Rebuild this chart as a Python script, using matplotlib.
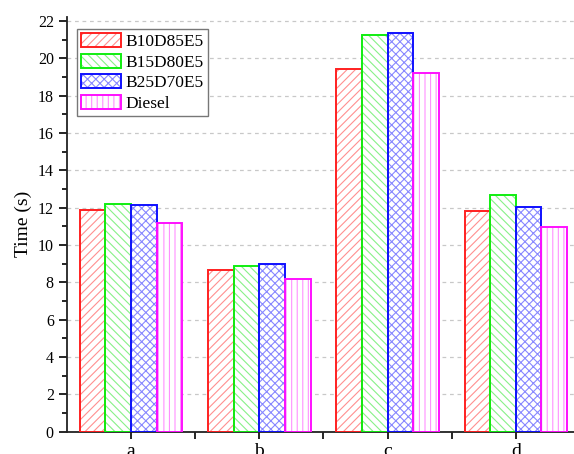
import numpy as np
import matplotlib
matplotlib.use("Agg")
import matplotlib.pyplot as plt
from matplotlib.patches import Patch
from matplotlib.legend_handler import HandlerTuple

categories = ["a", "b", "c", "d"]
fuels = ["B10D85E5", "B15D80E5", "B25D70E5", "Diesel"]
b10d85e5 = [11.89, 8.66, 19.41, 11.82]
b15d80e5 = [12.21, 8.88, 21.28, 12.71]
b25d70e5 = [12.13, 8.97, 21.35, 12.05]
diesel = [11.16, 8.20, 19.20, 10.96]
series = [b10d85e5, b15d80e5, b25d70e5, diesel]

edge_cols = ["#ff2020", "#10ee10", "#1010ff", "#ff10ff"]
hatch_cols = ["#ff9090", "#88f088", "#8888ff", "#ff90ff"]
hatches = ["////", "\\\\\\\\", "xxxx", "|||"]

plt.rcParams["font.family"] = ["Liberation Serif", "DejaVu Serif"]
plt.rcParams["hatch.linewidth"] = 0.8

fig = plt.figure(figsize=(5.74, 4.54), dpi=100)
ax = fig.add_axes([0.1167, 0.049, 0.8937, 0.914])

x = np.arange(len(categories))
w = 0.2
handles = []
for i, vals in enumerate(series):
    pos = x + (i - 1.5) * w
    ax.bar(pos, vals, w, color="white", edgecolor=hatch_cols[i],
           hatch=hatches[i], linewidth=0, zorder=2)
    ax.bar(pos, vals, w, fill=False, edgecolor=edge_cols[i],
           linewidth=1.4, zorder=3)
    h1 = Patch(facecolor="white", edgecolor=hatch_cols[i], hatch=hatches[i], linewidth=0)
    h2 = Patch(fill=False, edgecolor=edge_cols[i], linewidth=1.4)
    handles.append((h1, h2))

ax.set_xlim(-0.5, 3.5)
ax.set_ylim(0, 22.23)
ax.set_xticks(x)
ax.set_xticklabels(categories, fontsize=14)
ax.set_xticks([0.5, 1.5, 2.5], minor=True)
ax.set_yticks(np.arange(0, 23, 2))
ax.set_yticks(np.arange(1, 23, 2), minor=True)
ax.tick_params(axis="y", which="major", length=6, width=1.2, labelsize=11.5)
ax.tick_params(axis="y", which="minor", length=3.5, width=1.2)
ax.tick_params(axis="x", which="both", length=5, width=1.2, pad=3)
ax.set_ylabel("Time (s)", fontsize=14)

ax.spines["top"].set_visible(False)
ax.spines["right"].set_visible(False)
for s in ["left", "bottom"]:
    ax.spines[s].set_linewidth(1.3)
    ax.spines[s].set_color("#222222")

ax.yaxis.grid(True, linestyle=(0, (3, 3)), color="#c8c8c8", linewidth=0.9, zorder=0)
ax.set_axisbelow(True)

leg = ax.legend(handles, fuels, handler_map={tuple: HandlerTuple(ndivide=1)},
                loc="upper left", bbox_to_anchor=(0.012, 0.98), fontsize=12.5,
                fancybox=False, edgecolor="#777777", framealpha=1,
                handlelength=2.3, handleheight=0.85, handletextpad=0.25,
                labelspacing=0.22, borderpad=0.25, borderaxespad=0.2)
leg.get_frame().set_linewidth(1.0)

fig.savefig("out.png", dpi=100)
